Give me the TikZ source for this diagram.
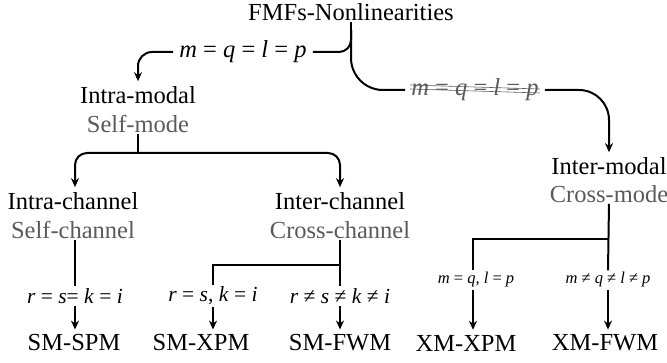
\documentclass[tikz,border=0pt]{standalone}
\usepackage{fontspec}
\setmainfont{Liberation Serif}[ItalicFont={Liberation Serif Italic}]
\usepackage{tikz}
\usetikzlibrary{arrows.meta}
\definecolor{subgray}{RGB}{90,90,90}

\begin{document}
\begin{tikzpicture}[x=1pt,y=-1pt,
  lbl/.style={inner sep=1pt,font=\fontsize{24.5}{28}\selectfont},
  sub/.style={lbl,text=subgray},
  edgelbl/.style={lbl,inner xsep=6pt},
  cond/.style={inner sep=2pt,font=\fontsize{21.5}{24}\selectfont},
  condsm/.style={inner sep=2pt,font=\fontsize{16.5}{19}\selectfont},
  wire/.style={line width=2pt},
  arr/.style={wire,shorten >=4pt,-{Stealth[length=9pt,width=8pt]}},
  scrib/.style={line width=0.6pt,subgray}]
  \useasboundingbox (0,0) rectangle (667,363);

  \node[lbl](root) at (351,12) {FMFs-Nonlinearities};
  \coordinate (split) at (351,30);

  \node[edgelbl](lblA) at (243,52) {\textit{m} = \textit{q} = \textit{l} = \textit{p}};
  \node[edgelbl,text=subgray](lblB) at (475,90) {\textit{m} = \textit{q} = \textit{l} = \textit{p}};
  \draw[scrib] ([xshift=5pt,yshift=1pt]lblB.west) -- ([xshift=-5pt,yshift=-3pt]lblB.east);
  \draw[scrib] ([xshift=5pt,yshift=5pt]lblB.west) -- ([xshift=-5pt,yshift=1pt]lblB.east);

  \node[lbl](intra)    at (138,95)  {Intra-modal};
  \node[sub](intrasub) at (138,124) {Self-mode};
  \node[lbl](inter)    at (609,166) {Inter-modal};
  \node[sub](intersub) at (609,194) {Cross-mode};

  \draw[wire,rounded corners=12pt] (split) |- (lblA.east);
  \draw[wire,rounded corners=32pt] (split) |- (lblB.west);
  \draw[wire] (root.south -| split) -- (split);
  \draw[arr,rounded corners=14pt] (lblA.west) -| (intra.north);
  \draw[arr,rounded corners=30pt] (lblB.east) -| (inter.north);

  % self-mode branch
  \node[lbl](intrach)    at (73,201)  {Intra-channel};
  \node[sub](intrachsub) at (73,230)  {Self-channel};
  \node[lbl](interch)    at (340,201) {Inter-channel};
  \node[sub](interchsub) at (340,230) {Cross-channel};
  \coordinate (bsplit) at (138,153);
  \draw[wire] (intrasub.south) -- (bsplit);
  \draw[arr,rounded corners=12pt] (bsplit) -| ([xshift=2pt]intrach.north);
  \draw[arr,rounded corners=12pt] (bsplit) -| (interch.north);

  \node[cond](lblr1) at (75,296)  {\textit{r} = \textit{s}= \textit{k} = \textit{i}};
  \node[cond](lblr2) at (213,296) {\textit{r} = \textit{s}, \textit{k} = \textit{i}};
  \node[cond](lblr3) at (340,296) {\textit{r} ≠ \textit{s} ≠ \textit{k} ≠ \textit{i}};
  \node[lbl](spm) at (74,343)  {SM-SPM};
  \node[lbl](xpm) at (201,343) {SM-XPM};
  \node[lbl](fwm) at (340,343) {SM-FWM};

  \draw[wire] (intrachsub.south -| lblr1) -- (lblr1.north);
  \coordinate (csplit) at (340,265);
  \draw[wire] (interchsub.south) -- (lblr3.north);
  \draw[wire] (csplit) -| (lblr2.north);
  \draw[arr] (lblr1.south) -- (lblr1.south |- spm.north);
  \draw[arr] (lblr2.south) -- (lblr2.south |- xpm.north);
  \draw[arr] (lblr3.south) -- (lblr3.south |- fwm.north);

  % cross-mode branch
  \node[condsm](lblx1) at (476,280) {\textit{m} = \textit{q}, \textit{l} = \textit{p}};
  \node[condsm](lblx2) at (608,280) {\textit{m} ≠ \textit{q} ≠ \textit{l} ≠ \textit{p}};
  \node[lbl](xxpm) at (466,343) {XM-XPM};
  \node[lbl](xfwm) at (605,343) {XM-FWM};
  \coordinate (dsplit) at (608,239);
  \draw[wire] (intersub.south) -- (lblx2.north);
  \draw[wire] (dsplit) -| ([xshift=-3pt]lblx1.north);
  \draw[arr] (lblx1.south -| dsplit) -- (dsplit |- xfwm.north);
  \draw[arr] ([xshift=-3pt]lblx1.south) -- ([xshift=-3pt]lblx1.south |- xxpm.north);
\end{tikzpicture}
\end{document}
